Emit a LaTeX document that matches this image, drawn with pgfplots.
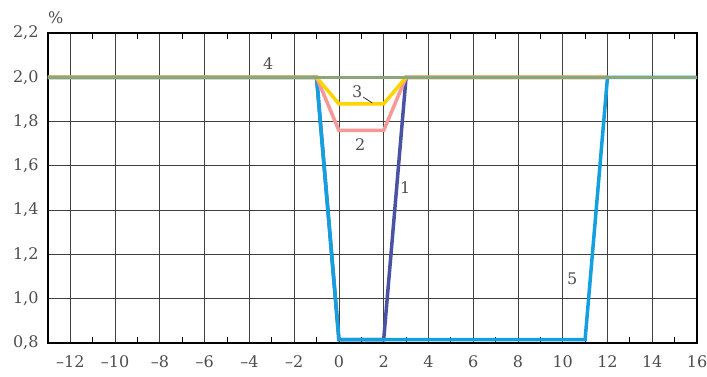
\documentclass[border=0pt]{standalone}
\usepackage{fontspec}
\setmainfont{DejaVu Serif}
\usepackage{pgfplots}
\pgfplotsset{compat=1.18}

\definecolor{cOne}{HTML}{4A52A3}
\definecolor{cTwo}{HTML}{F59896}
\definecolor{cThree}{HTML}{FFD400}
\definecolor{cFour}{HTML}{8AA67A}
\definecolor{cFive}{HTML}{12A0E0}
\definecolor{txt}{HTML}{4D4D4D}

\begin{document}
\fontsize{16}{19}\selectfont
\begin{tikzpicture}
  % page = 707 x 376, axis box 649 x 310 at (48,33) from top left
  \useasboundingbox (-48pt,-33pt) rectangle (659pt,343pt);
  \begin{axis}[
    at={(0,0)}, anchor=south west,
    scale only axis,
    width=649pt, height=310pt,
    xmin=-13, xmax=16, ymin=0.8, ymax=2.2,
    xtick={-12,-10,...,16},
    xticklabels={–12,–10,–8,–6,–4,–2,0,2,4,6,8,10,12,14,16},
    ytick={0.8,1.0,1.2,1.4,1.6,1.8,2.0,2.2},
    yticklabel style={
      /pgf/number format/fixed,
      /pgf/number format/fixed zerofill,
      /pgf/number format/precision=1,
      /pgf/number format/use comma,
      xshift=-4pt},
    /pgf/number format/assume math mode=true,
    minor x tick num=1,
    tick align=inside,
    major tick length=0pt,
    minor tick length=6pt,
    grid=major,
    grid style={black!75, line width=0.8pt},
    axis line style={black, line width=1.2pt},
    tick style={black, line width=0.8pt},
    tick label style={txt, font=\fontsize{16}{19}\selectfont},
    xticklabel style={yshift=-7pt},
    clip=false,
  ]
    % 1
    \addplot[cOne, line width=3.5pt] coordinates {
      (-13,2.0)(-1,2.0)(0,0.815)(2,0.815)(3,2.0)(12,2.0)};
    % 5
    \addplot[cFive, line width=3.5pt] coordinates {
      (-13,2.0)(-1,2.0)(0,0.815)(11,0.815)(12,2.0)(16,2.0)};
    % 2
    \addplot[cTwo, line width=3.5pt] coordinates {
      (-13,2.0)(-1,2.0)(0,1.76)(2,1.76)(3,2.0)(12,2.0)};
    % 3
    \addplot[cThree, line width=3.5pt] coordinates {
      (-13,2.0)(-1,2.0)(0,1.88)(2,1.88)(3,2.0)(12,2.0)};
    % 4
    \addplot[cFour, line width=3.5pt] coordinates {
      (-13,2.0)(16,2.0)};

    \node[txt] at (axis cs:-3.16,2.064) {4};
    \node[txt] at (axis cs:0.82,1.934) {3};
    \draw[black!80, line width=0.8pt] (axis cs:1.08,1.911) -- (axis cs:1.49,1.884);
    \node[txt] at (axis cs:0.95,1.694) {2};
    \node[txt] at (axis cs:2.96,1.50) {1};
    \node[txt] at (axis cs:10.42,1.089) {5};
    \node[txt, anchor=south west, inner sep=0pt] at (rel axis cs:0,1) [yshift=9pt] {\%};
  \end{axis}
\end{tikzpicture}
\end{document}
